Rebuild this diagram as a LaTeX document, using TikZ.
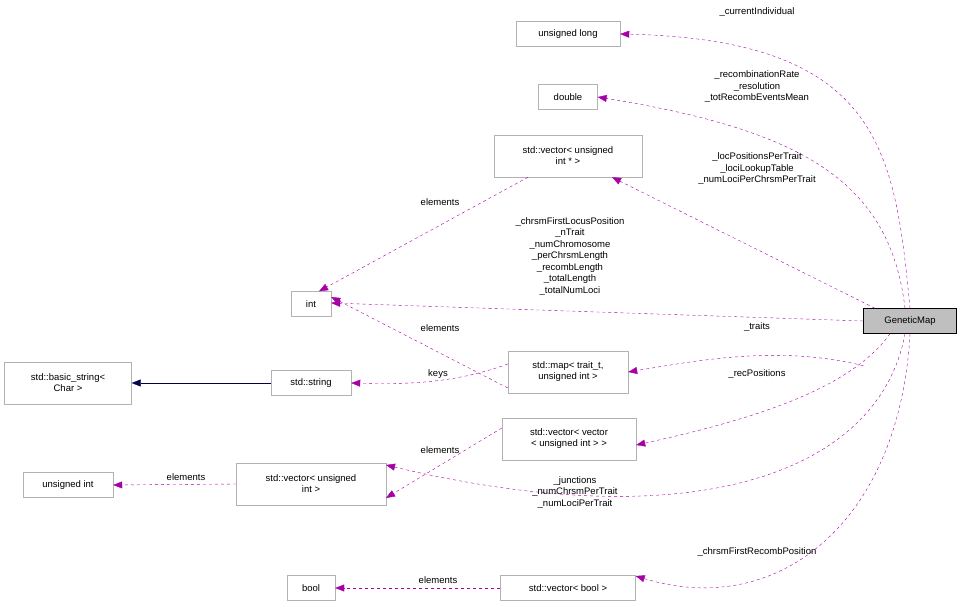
\documentclass[tikz,border=0pt]{standalone}
\usepackage{fontspec}
\setmainfont{Liberation Sans}
\usetikzlibrary{arrows.meta}
\begin{document}
\begin{tikzpicture}[x=1pt,y=-1pt,
  box/.style={draw=black!30,fill=white,font=\fontsize{9.5}{11}\selectfont,align=center,inner sep=2pt,minimum height=25pt},
  lbl/.style={font=\fontsize{9.5}{11.5}\selectfont,align=center,inner sep=0pt},
  mem/.style={draw=violet!70!magenta,dashed,-{Triangle[open,fill=violet!70!magenta,length=9pt,width=7pt]}},
  inh/.style={draw=blue!30!black,-{Triangle[open,fill=blue!30!black,length=9pt,width=7pt]}}]
\useasboundingbox (0,0) rectangle (961,610);
\node[box,minimum width=104pt] (ul) at (568,34) {unsigned long};
\node[box,minimum width=59pt] (dbl) at (568,97) {double};
\node[box,minimum width=148pt,minimum height=42pt] (vup) at (568,156) {std::vector< unsigned\\int * >};
\node[box,minimum width=40pt] (int) at (311,304) {int};
\node[box,fill=black!25,draw=black,minimum width=93pt] (gm) at (910,321) {GeneticMap};
\node[box,minimum width=127pt,minimum height=42pt] (bs) at (68,383) {std::basic\_string<\\Char >};
\node[box,minimum width=80pt] (str) at (311,383) {std::string};
\node[box,minimum width=120pt,minimum height=42pt] (map) at (568,372) {std::map< trait\_t,\\unsigned int >};
\node[box,minimum width=134pt,minimum height=42pt] (vv) at (569,439) {std::vector< vector\\< unsigned int > >};
\node[box,minimum width=90pt] (ui) at (68,485) {unsigned int};
\node[box,minimum width=150pt,minimum height=42pt] (vui) at (311,484) {std::vector< unsigned\\int >};
\node[box,minimum width=48pt] (bool) at (311,588) {bool};
\node[box,minimum width=135pt] (vb) at (568,588) {std::vector< bool >};

\draw[mem] (gm.north) .. controls (895,150) and (880,40) .. (ul.east);
\node[lbl] (l1) at (757,12) {\_currentIndividual};
\draw[mem] ([xshift=-5pt]gm.north) .. controls (890,180) and (800,130) .. (dbl.east);
\node[lbl] (l2) at (757,87) {\_recombinationRate\\\_resolution\\\_totRecombEventsMean};
\draw[mem] ([xshift=-35pt]gm.north) -- ([xshift=44pt]vup.south);
\node[lbl] (l3) at (757,169) {\_locPositionsPerTrait\\\_lociLookupTable\\\_numLociPerChrsmPerTrait};
\draw[mem] (gm.west) -- ([yshift=1pt]int.east);
\node[lbl] (l4) at (570,256) {\_chrsmFirstLocusPosition\\\_nTrait\\\_numChromosome\\\_perChrsmLength\\\_recombLength\\\_totalLength\\\_totalNumLoci};
\draw[mem] ([xshift=-40pt]vup.south) -- ([xshift=8pt]int.north);
\node[lbl] (l5) at (440,202) {elements};
\draw[mem] ([yshift=-16pt]map.west) -- ([yshift=7pt]int.east);
\node[lbl] (l6) at (440,328) {elements};
\draw[mem] ([yshift=8pt]map.west) .. controls (450,385) and (400,384) .. (str.east);
\node[lbl] (l7) at (438,374) {keys};
\draw[inh] (str.west) -- (bs.east);
\draw[mem] ([yshift=-32pt]gm.south west) .. controls (780,345) and (700,360) .. (map.east);
\node[lbl] (l8) at (757,327) {\_traits};
\draw[mem] ([xshift=-20pt]gm.south) .. controls (850,390) and (750,420) .. ([yshift=-6pt]vv.east);
\node[lbl] (l9) at (757,374) {\_recPositions};
\draw[mem] ([yshift=11pt]vv.west) -- ([xshift=75pt,yshift=-14pt]vui.center);
\node[lbl] (l10) at (440,450) {elements};
\draw[mem] (vui.west) -- (ui.east);
\node[lbl] (l11) at (186,477) {elements};
\draw[mem] ([xshift=-5pt]gm.south) .. controls (880,470) and (700,540) .. ([xshift=75pt,yshift=19pt]vui.center);
\node[lbl] (l12) at (575,492) {\_junctions\\\_numChrsmPerTrait\\\_numLociPerTrait};
\draw[mem] (gm.south) .. controls (900,520) and (780,620) .. ([yshift=12pt]vb.east);
\node[lbl] (l13) at (757,552) {\_chrsmFirstRecombPosition};
\draw[mem] (vb.west) -- (bool.east);
\node[lbl] (l14) at (438,580) {elements};
\end{tikzpicture}
\end{document}
